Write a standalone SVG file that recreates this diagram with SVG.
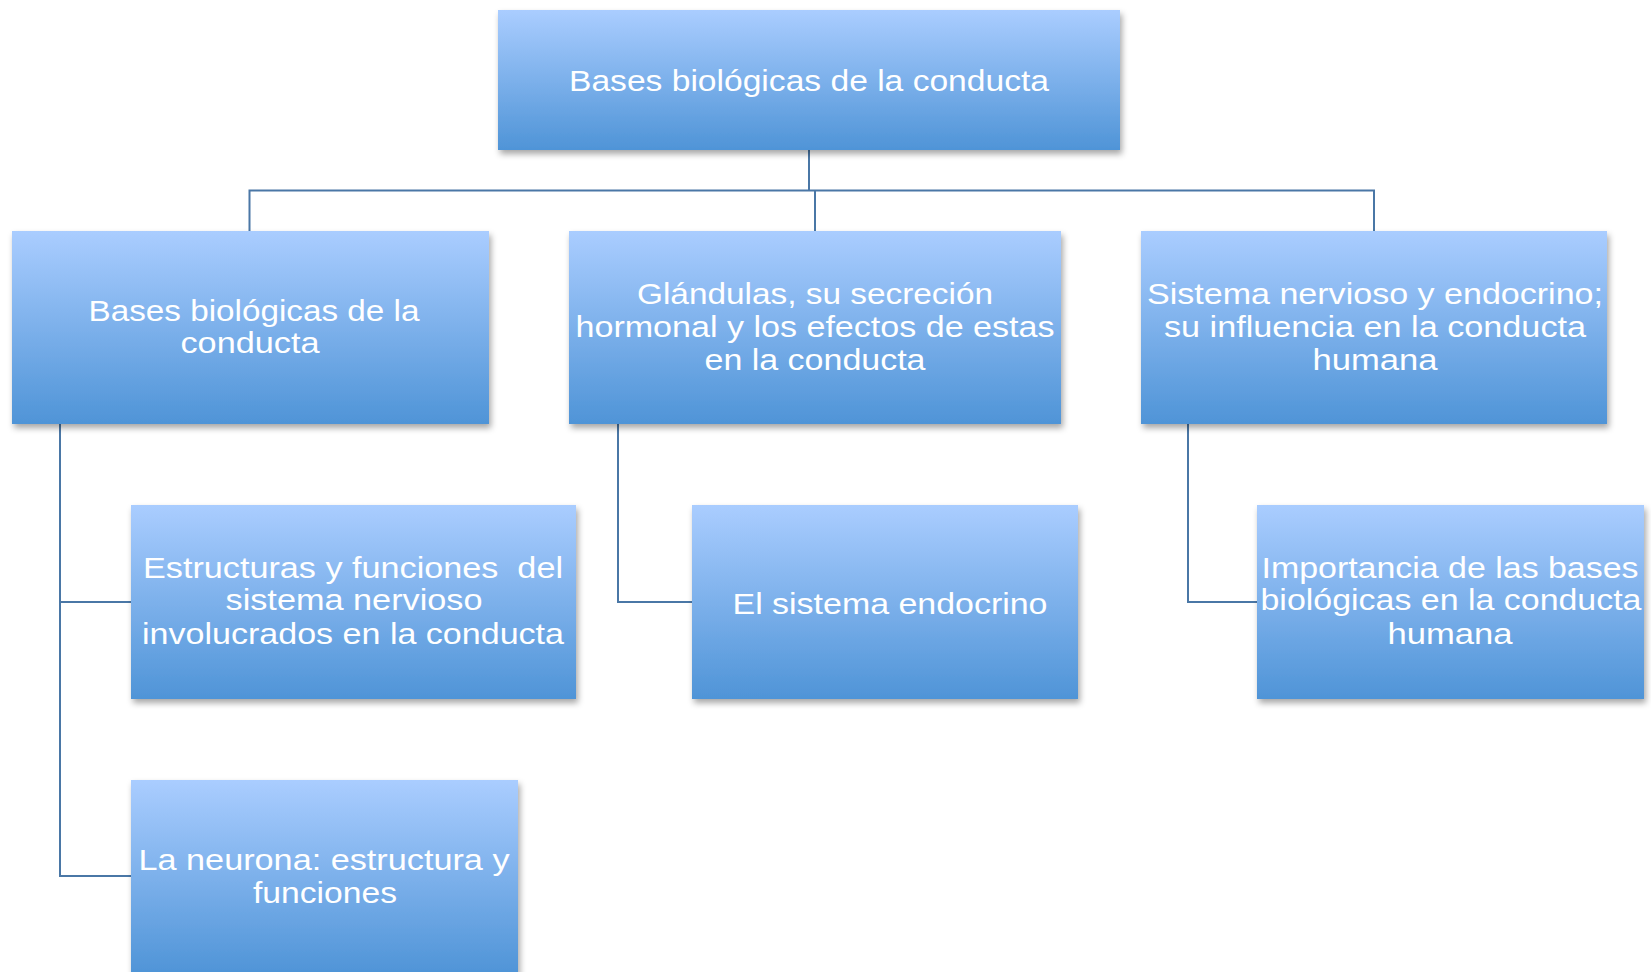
<svg xmlns="http://www.w3.org/2000/svg" width="1651" height="972" viewBox="0 0 1651 972">
<defs>
<linearGradient id="g" x1="0" y1="0" x2="0" y2="1">
<stop offset="0" stop-color="#aacdff"/>
<stop offset="1" stop-color="#4f94d7"/>
</linearGradient>
<filter id="sh" x="-5%" y="-5%" width="115%" height="120%">
<feDropShadow dx="2" dy="4" stdDeviation="3" flood-color="#000" flood-opacity="0.35"/>
</filter>
<style>
.box{fill:url(#g);filter:url(#sh);}
.t{font-family:"Liberation Sans","Noto Sans",sans-serif;font-size:30px;fill:#ffffff;text-anchor:middle;}
.c{fill:none;stroke:#4a77a6;stroke-width:2;}
</style>
</defs>
<rect width="1651" height="972" fill="#ffffff"/>
<g id="connectors">
<path class="c" d="M809 150V191M249.5 231V190.5H1374V231M815 191V231"/>
<path class="c" d="M60 424V876H131M60 602H131"/>
<path class="c" d="M618 424V602H692"/>
<path class="c" d="M1188 424V602H1257"/>
</g>
<g id="n0">
<rect class="box" x="498" y="10" width="622" height="140"/>
<text class="t" x="809" y="91" textLength="480" lengthAdjust="spacingAndGlyphs">Bases biológicas de la conducta</text>
</g>
<g id="n1">
<rect class="box" x="12" y="231" width="477" height="193"/>
<text class="t" x="254" y="321" textLength="331" lengthAdjust="spacingAndGlyphs">Bases biológicas de la</text>
<text class="t" x="250" y="353" textLength="139" lengthAdjust="spacingAndGlyphs">conducta</text>
</g>
<g id="n2">
<rect class="box" x="569" y="231" width="492" height="193"/>
<text class="t" x="815" y="304" textLength="356" lengthAdjust="spacingAndGlyphs">Glándulas, su secreción</text>
<text class="t" x="815" y="337" textLength="479" lengthAdjust="spacingAndGlyphs">hormonal y los efectos de estas</text>
<text class="t" x="815" y="370" textLength="221" lengthAdjust="spacingAndGlyphs">en la conducta</text>
</g>
<g id="n3">
<rect class="box" x="1141" y="231" width="466" height="193"/>
<text class="t" x="1375" y="304" textLength="456" lengthAdjust="spacingAndGlyphs">Sistema nervioso y endocrino;</text>
<text class="t" x="1375" y="337" textLength="422" lengthAdjust="spacingAndGlyphs">su influencia en la conducta</text>
<text class="t" x="1375" y="370" textLength="125" lengthAdjust="spacingAndGlyphs">humana</text>
</g>
<g id="n4">
<rect class="box" x="131" y="505" width="445" height="194"/>
<text class="t" x="353" y="578" textLength="420" lengthAdjust="spacingAndGlyphs">Estructuras y funciones&#160; del</text>
<text class="t" x="354" y="610" textLength="257" lengthAdjust="spacingAndGlyphs">sistema nervioso</text>
<text class="t" x="353" y="644" textLength="422" lengthAdjust="spacingAndGlyphs">involucrados en la conducta</text>
</g>
<g id="n5">
<rect class="box" x="692" y="505" width="386" height="194"/>
<text class="t" x="890" y="614" textLength="315" lengthAdjust="spacingAndGlyphs">El sistema endocrino</text>
</g>
<g id="n6">
<rect class="box" x="1257" y="505" width="387" height="194"/>
<text class="t" x="1450" y="578" textLength="377" lengthAdjust="spacingAndGlyphs">Importancia de las bases</text>
<text class="t" x="1451" y="610" textLength="381" lengthAdjust="spacingAndGlyphs">biológicas en la conducta</text>
<text class="t" x="1450" y="644" textLength="125" lengthAdjust="spacingAndGlyphs">humana</text>
</g>
<g id="n7">
<rect class="box" x="131" y="780" width="387" height="194"/>
<text class="t" x="324" y="870" textLength="371" lengthAdjust="spacingAndGlyphs">La neurona: estructura y</text>
<text class="t" x="325" y="903" textLength="144" lengthAdjust="spacingAndGlyphs">funciones</text>
</g>
</svg>
